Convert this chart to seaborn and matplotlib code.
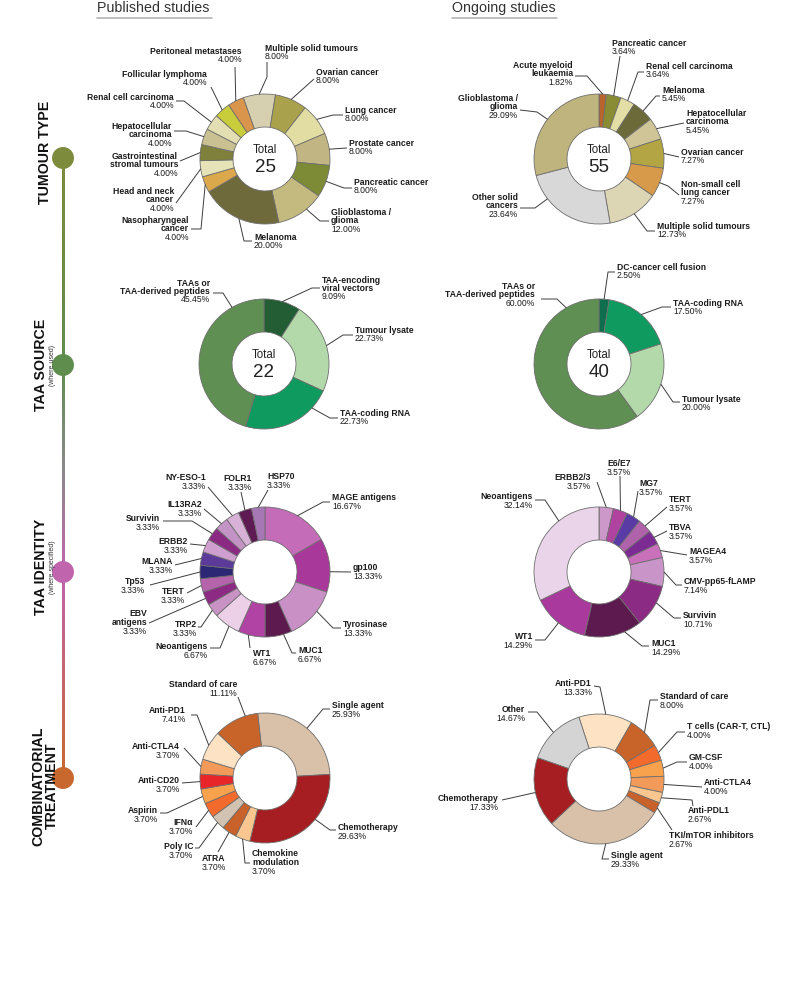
import numpy as np
import matplotlib.pyplot as plt
import seaborn as sns

sns.set_theme(style="white")
plt.rcParams["font.family"] = ["Liberation Sans", "DejaVu Sans"]

## Data (study counts, clockwise from the first wedge)

tumour_pub_labels = ["Multiple solid tumours", "Ovarian cancer", "Lung cancer", "Prostate cancer",
                     "Pancreatic cancer", "Glioblastoma /\nglioma", "Melanoma", "Nasopharyngeal\ncancer",
                     "Head and neck\ncancer", "Gastrointestinal\nstromal tumours", "Hepatocellular\ncarcinoma",
                     "Renal cell carcinoma", "Follicular lymphoma", "Peritoneal metastases"]
tumour_pub_counts = [2, 2, 2, 2, 2, 3, 5, 1, 1, 1, 1, 1, 1, 1]
tumour_pub_colors = ["#d7d0b0", "#a9a14b", "#e2dea3", "#c1b683", "#7e8b36", "#c4ba80", "#6f6a3b",
                     "#dba84c", "#e7e3b8", "#7e803b", "#cac193", "#e4dfb2", "#c9cd3c", "#d8954b"]

tumour_ong_labels = ["Acute myeloid\nleukaemia", "Pancreatic cancer", "Renal cell carcinoma", "Melanoma",
                     "Hepatocellular\ncarcinoma", "Ovarian cancer", "Non-small cell\nlung cancer",
                     "Multiple solid tumours", "Other solid\ncancers", "Glioblastoma /\nglioma"]
tumour_ong_counts = [1, 2, 2, 3, 3, 4, 4, 7, 13, 16]
tumour_ong_colors = ["#b8652d", "#8a8c33", "#e2dea5", "#6d6a3a", "#cfc597", "#b3a444", "#d69a4a",
                     "#dcd6b5", "#d8d8d8", "#bfb47d"]

source_pub_labels = ["TAA-encoding\nviral vectors", "Tumour lysate", "TAA-coding RNA", "TAAs or\nTAA-derived peptides"]
source_pub_counts = [2, 5, 5, 10]
source_pub_colors = ["#225d33", "#b3d9ab", "#0f9a5f", "#5f8f52"]

source_ong_labels = ["DC-cancer cell fusion", "TAA-coding RNA", "Tumour lysate", "TAAs or\nTAA-derived peptides"]
source_ong_counts = [1, 7, 8, 24]
source_ong_colors = ["#0f6e4e", "#0f9a5f", "#b3d9ab", "#5f8f52"]

ident_pub_labels = ["MAGE antigens", "gp100", "Tyrosinase", "MUC1", "WT1", "Neoantigens", "TRP2",
                    "EBV\nantigens", "TERT", "Tp53", "MLANA", "ERBB2", "Survivin", "IL13RA2",
                    "NY-ESO-1", "FOLR1", "HSP70"]
ident_pub_counts = [5, 4, 4, 2, 2, 2, 1, 1, 1, 1, 1, 1, 1, 1, 1, 1, 1]
ident_pub_colors = ["#c46cb8", "#a8399a", "#c990c6", "#5c1a4e", "#b043a3", "#ecd0e8", "#c893c4",
                    "#8c2a84", "#b563ab", "#2b2775", "#5b3a9a", "#cf9fd0", "#8a2a82", "#c493c6",
                    "#d7b1d6", "#5e1a52", "#a777b5"]

ident_ong_labels = ["ERBB2/3", "E6/E7", "MG7", "TERT", "TBVA", "MAGEA4", "CMV-pp65-fLAMP",
                    "Survivin", "MUC1", "WT1", "Neoantigens"]
ident_ong_counts = [1, 1, 1, 1, 1, 1, 2, 3, 4, 4, 9]
ident_ong_colors = ["#cc98c9", "#b0439f", "#5a3aa5", "#b063ab", "#7b2b92", "#c871ba", "#c994c8",
                    "#8b2b83", "#5c1a4e", "#a9399c", "#ead4ea"]

combo_pub_labels = ["Single agent", "Chemotherapy", "Chemokine\nmodulation", "ATRA", "Poly IC", "IFNα",
                    "Aspirin", "Anti-CD20", "Anti-CTLA4", "Anti-PD1", "Standard of care"]
combo_pub_counts = [7, 8, 1, 1, 1, 1, 1, 1, 1, 2, 3]
combo_pub_colors = ["#d9c0a8", "#a61e22", "#f8c68e", "#c8622a", "#d2c2b2", "#f26a2c", "#f8a24e",
                    "#e8262a", "#f29a5a", "#fde2c4", "#c8642a"]

combo_ong_labels = ["Anti-PD1", "Standard of care", "T cells (CAR-T, CTL)", "GM-CSF", "Anti-CTLA4",
                    "Anti-PDL1", "TKI/mTOR inhibitors", "Single agent", "Chemotherapy", "Other"]
combo_ong_counts = [10, 6, 3, 3, 3, 2, 2, 22, 13, 11]
combo_ong_colors = ["#fde2c4", "#c8642a", "#f26a2c", "#f8a24e", "#f29a5a", "#f8c68e", "#c8622a",
                    "#d9c0a8", "#a61e22", "#d4d4d4"]

section_titles = ["TUMOUR TYPE", "TAA SOURCE", "TAA IDENTITY", "COMBINATORIAL\nTREATMENT"]
section_notes = ["", "(where used)", "(where specified)", ""]
section_colors = ["#7d8b3d", "#5f8d4e", "#c065ad", "#c8682e"]

## Layout (pixel coordinates, y downwards)
# label layout: text x, first line y, ha, leader anchor x/y, optional elbow
tumour_pub_layout = [
    (265, 48, "left", 267, 62, (267, 77)), (316, 72, "left", 314, 79, None),
    (345, 110, "left", 343, 115, (333, 115)), (349, 143, "left", 347, 148, None),
    (354, 182, "left", 352, 188, (344, 188)), (331, 212, "left", 329, 221, (320, 221)),
    (254, 237, "left", 252, 241, (244, 241)), (189, 220, "right", 191, 229, (201, 229)),
    (174, 191, "right", 176, 203, None), (178, 156, "right", 180, 161, None),
    (172, 126, "right", 174, 131, (186, 131)), (174, 97, "right", 176, 101, (184, 101)),
    (207, 74, "right", 211, 87, None), (242, 51, "right", 235, 67, None)]
tumour_ong_layout = [
    (573, 65, "right", 575, 76, (587, 76)), (612, 43, "left", 620, 56, None),
    (646, 66, "left", 644, 72, (638, 72)), (662, 90, "left", 660, 96, (656, 96)),
    (686, 113, "left", 684, 123, None), (681, 152, "left", 679, 157, None),
    (681, 184, "left", 679, 195, (668, 186)), (657, 226, "left", 655, 231, (647, 231)),
    (518, 197, "right", 520, 208, (535, 208)), (518, 98, "right", 520, 110, (537, 112))]
source_pub_layout = [
    (322, 280, "left", 320, 288, (312, 288)), (355, 330, "left", 353, 335, (343, 335)),
    (340, 413, "left", 338, 418, (330, 418)), (210, 283, "right", 213, 293, (223, 293))]
source_ong_layout = [
    (617, 267, "left", 615, 272, (608, 272)), (673, 303, "left", 671, 307, (662, 307)),
    (682, 399, "left", 680, 402, (673, 402)), (535, 286, "right", 541, 299, (557, 299))]
ident_pub_layout = [
    (332, 497, "left", 330, 502, (323, 502)), (353, 567, "left", 351, 572, None),
    (343, 624, "left", 341, 628, (333, 628)), (298, 650, "left", 296, 653, (292, 653)),
    (253, 653, "left", 250, 648, None), (208, 646, "right", 210, 648, (220, 648)),
    (197, 624, "right", 198, 627, (201, 627)), (147, 613, "right", 149, 623, None),
    (185, 591, "right", 187, 593, None), (145, 581, "right", 150, 585, None),
    (173, 561, "right", 175, 565, None), (188, 541, "right", 190, 544, None),
    (160, 518, "right", 163, 521, (192, 521)), (202, 504, "right", 204, 509, None),
    (206, 477, "right", 208, 487, None), (252, 478, "right", 241, 492, None),
    (267, 476, "left", 268, 490, None)]
ident_ong_layout = [
    (591, 477, "right", 597, 482, None), (607, 463, "left", 620, 476, None),
    (639, 483, "left", 638, 491, None), (669, 499, "left", 667, 507, None),
    (669, 527, "left", 667, 531, None), (689, 551, "left", 687, 555, None),
    (684, 581, "left", 682, 585, (676, 585)), (683, 615, "left", 681, 618, (674, 618)),
    (651, 643, "left", 649, 646, (642, 646)), (533, 636, "right", 535, 640, (545, 640)),
    (533, 496, "right", 535, 500, (545, 500))]
combo_pub_layout = [
    (332, 705, "left", 330, 709, (323, 709)), (338, 827, "left", 336, 830, (330, 830)),
    (252, 853, "left", 250, 863, (245, 863)), (202, 858, "left", 218, 852, None),
    (193, 846, "right", 195, 848, (199, 848)), (193, 822, "right", 196, 827, None),
    (158, 810, "right", 160, 813, (167, 813)), (180, 780, "right", 182, 783, None),
    (180, 746, "right", 184, 748, None), (186, 710, "right", 191, 715, (197, 715)),
    (237, 684, "right", 238, 697, None)]
combo_ong_layout = [
    (592, 683, "right", 594, 686, (600, 687)), (660, 696, "left", 658, 700, (650, 700)),
    (687, 726, "left", 685, 732, (677, 732)), (689, 757, "left", 687, 762, (677, 762)),
    (704, 782, "left", 702, 787, None), (688, 810, "left", 693, 806, (692, 800)),
    (669, 835, "left", 672, 830, None), (611, 855, "left", 609, 859, (602, 859)),
    (498, 798, "right", 502, 800, None), (525, 709, "right", 528, 712, (537, 712))]

# where a leader meets its wedge (fraction along the arc), when not the middle
tumour_pub_frac = {5: 0.37}
tumour_ong_frac = {8: 0.73}
source_pub_frac = {2: 0.22, 3: 0.82}
source_ong_frac = {3: 0.86}
ident_pub_frac = {1: 0.62, 2: 0.4, 3: 0.31, 4: 0.62, 5: 0.4}
ident_ong_frac = {7: 0.4, 8: 0.3, 10: 0.67}
combo_pub_frac = {1: 0.4, 10: 0.72}
combo_ong_frac = {}

R, r = 65, 32
EDGE = "#6e6e6e"
TXT = "#1b1b1b"
FS = 6.2

fig = plt.figure(figsize=(8, 9.96), dpi=100)
ax = fig.add_axes([0, 0, 1, 1])


def donut(cx, cy, labels, counts, colors, offset, layout, fracs, dy, show_total):
    wedges, _ = ax.pie(counts, colors=colors, startangle=-90 + offset, counterclock=True,
                       radius=R, center=(cx, cy),
                       wedgeprops=dict(width=R - r, edgecolor=EDGE, linewidth=0.6))
    total = sum(counts)
    for k, (w, lab, c, (tx, ty, ha, axx, ayy, elbow)) in enumerate(zip(wedges, labels, counts, layout)):
        f = fracs.get(k, 0.5)
        ang = np.deg2rad(w.theta1 + f * (w.theta2 - w.theta1))
        px, py = cx + R * np.cos(ang), cy + R * np.sin(ang)
        xs, ys = [axx], [ayy]
        if elbow is not None:
            xs.append(elbow[0])
            ys.append(elbow[1])
        xs.append(px)
        ys.append(py)
        ax.plot(xs, ys, color="#3c3c3c", lw=0.7, solid_capstyle="butt")
        lines = lab.split("\n")
        for i, line in enumerate(lines):
            ax.text(tx, ty + i * dy, line, ha=ha, va="center", fontsize=FS,
                    fontweight="bold", color=TXT)
        ax.text(tx, ty + len(lines) * dy, f"{100 * c / total:.2f}%", ha=ha, va="center",
                fontsize=FS, color=TXT)
    if show_total:
        ax.text(cx, cy - 9, "Total", ha="center", va="center", fontsize=8.3, color="#222")
        ax.text(cx, cy + 8, str(total), ha="center", va="center", fontsize=13.5, color="#222")


donut(265, 159, tumour_pub_labels, tumour_pub_counts, tumour_pub_colors, -19.5, tumour_pub_layout, tumour_pub_frac, 8.8, True)
donut(599, 159, tumour_ong_labels, tumour_ong_counts, tumour_ong_colors, 0, tumour_ong_layout, tumour_ong_frac, 8.8, True)
donut(264, 364, source_pub_labels, source_pub_counts, source_pub_colors, 0, source_pub_layout, source_pub_frac, 8.4, True)
donut(599, 364, source_ong_labels, source_ong_counts, source_ong_colors, 0, source_ong_layout, source_ong_frac, 8.8, True)
donut(265, 572, ident_pub_labels, ident_pub_counts, ident_pub_colors, 0, ident_pub_layout, ident_pub_frac, 9.0, False)
donut(599, 572, ident_ong_labels, ident_ong_counts, ident_ong_colors, 0, ident_ong_layout, ident_ong_frac, 9.0, False)
donut(265, 778, combo_pub_labels, combo_pub_counts, combo_pub_colors, -6.5, combo_pub_layout, combo_pub_frac, 9.0, False)
donut(599, 779, combo_ong_labels, combo_ong_counts, combo_ong_colors, -18, combo_ong_layout, combo_ong_frac, 9.0, False)

# column headers
for x0, x1, title in [(97, 212, "Published studies"), (452, 557, "Ongoing studies")]:
    ax.text(x0, 12, title, ha="left", va="baseline", fontsize=10.3, color="#333333")
    ax.plot([x0, x1], [18, 18], color="#b4b4b4", lw=1.2)

# timeline on the left, colours blended between the section dots
dot_y = [158, 365, 572, 778]
stops = [section_colors[0], section_colors[1], "#8c8a8c", section_colors[2], section_colors[3]]
stop_pos = [158, 365, 468, 572, 778]
ramp = []
for i in range(len(stops) - 1):
    n = int(stop_pos[i + 1] - stop_pos[i])
    ramp.extend(sns.blend_palette([stops[i], stops[i + 1]], n))
ramp = np.array(ramp)[:, None, :]
ax.imshow(ramp, extent=[61.7, 64.3, 778, 158], aspect="auto", interpolation="bilinear", zorder=2)
ax.scatter([63] * 4, dot_y, s=250, c=section_colors, zorder=3, linewidths=0)

title_x = [45, 41, 41, 45]
title_y = [152, 365, 567, 786]
for t, note, x, y in zip(section_titles, section_notes, title_x, title_y):
    ax.text(x, y, t, rotation=90, ha="center", va="center", fontsize=10.2,
            fontweight="bold", color="#111", multialignment="center", linespacing=0.95)
    if note:
        ax.text(52, y, note, rotation=90, ha="center", va="center", fontsize=5, color="#333")

ax.set_xlim(0, 800)
ax.set_ylim(996, 0)
ax.set_aspect("equal")
ax.axis("off")
fig.savefig("out.png", dpi=100)
